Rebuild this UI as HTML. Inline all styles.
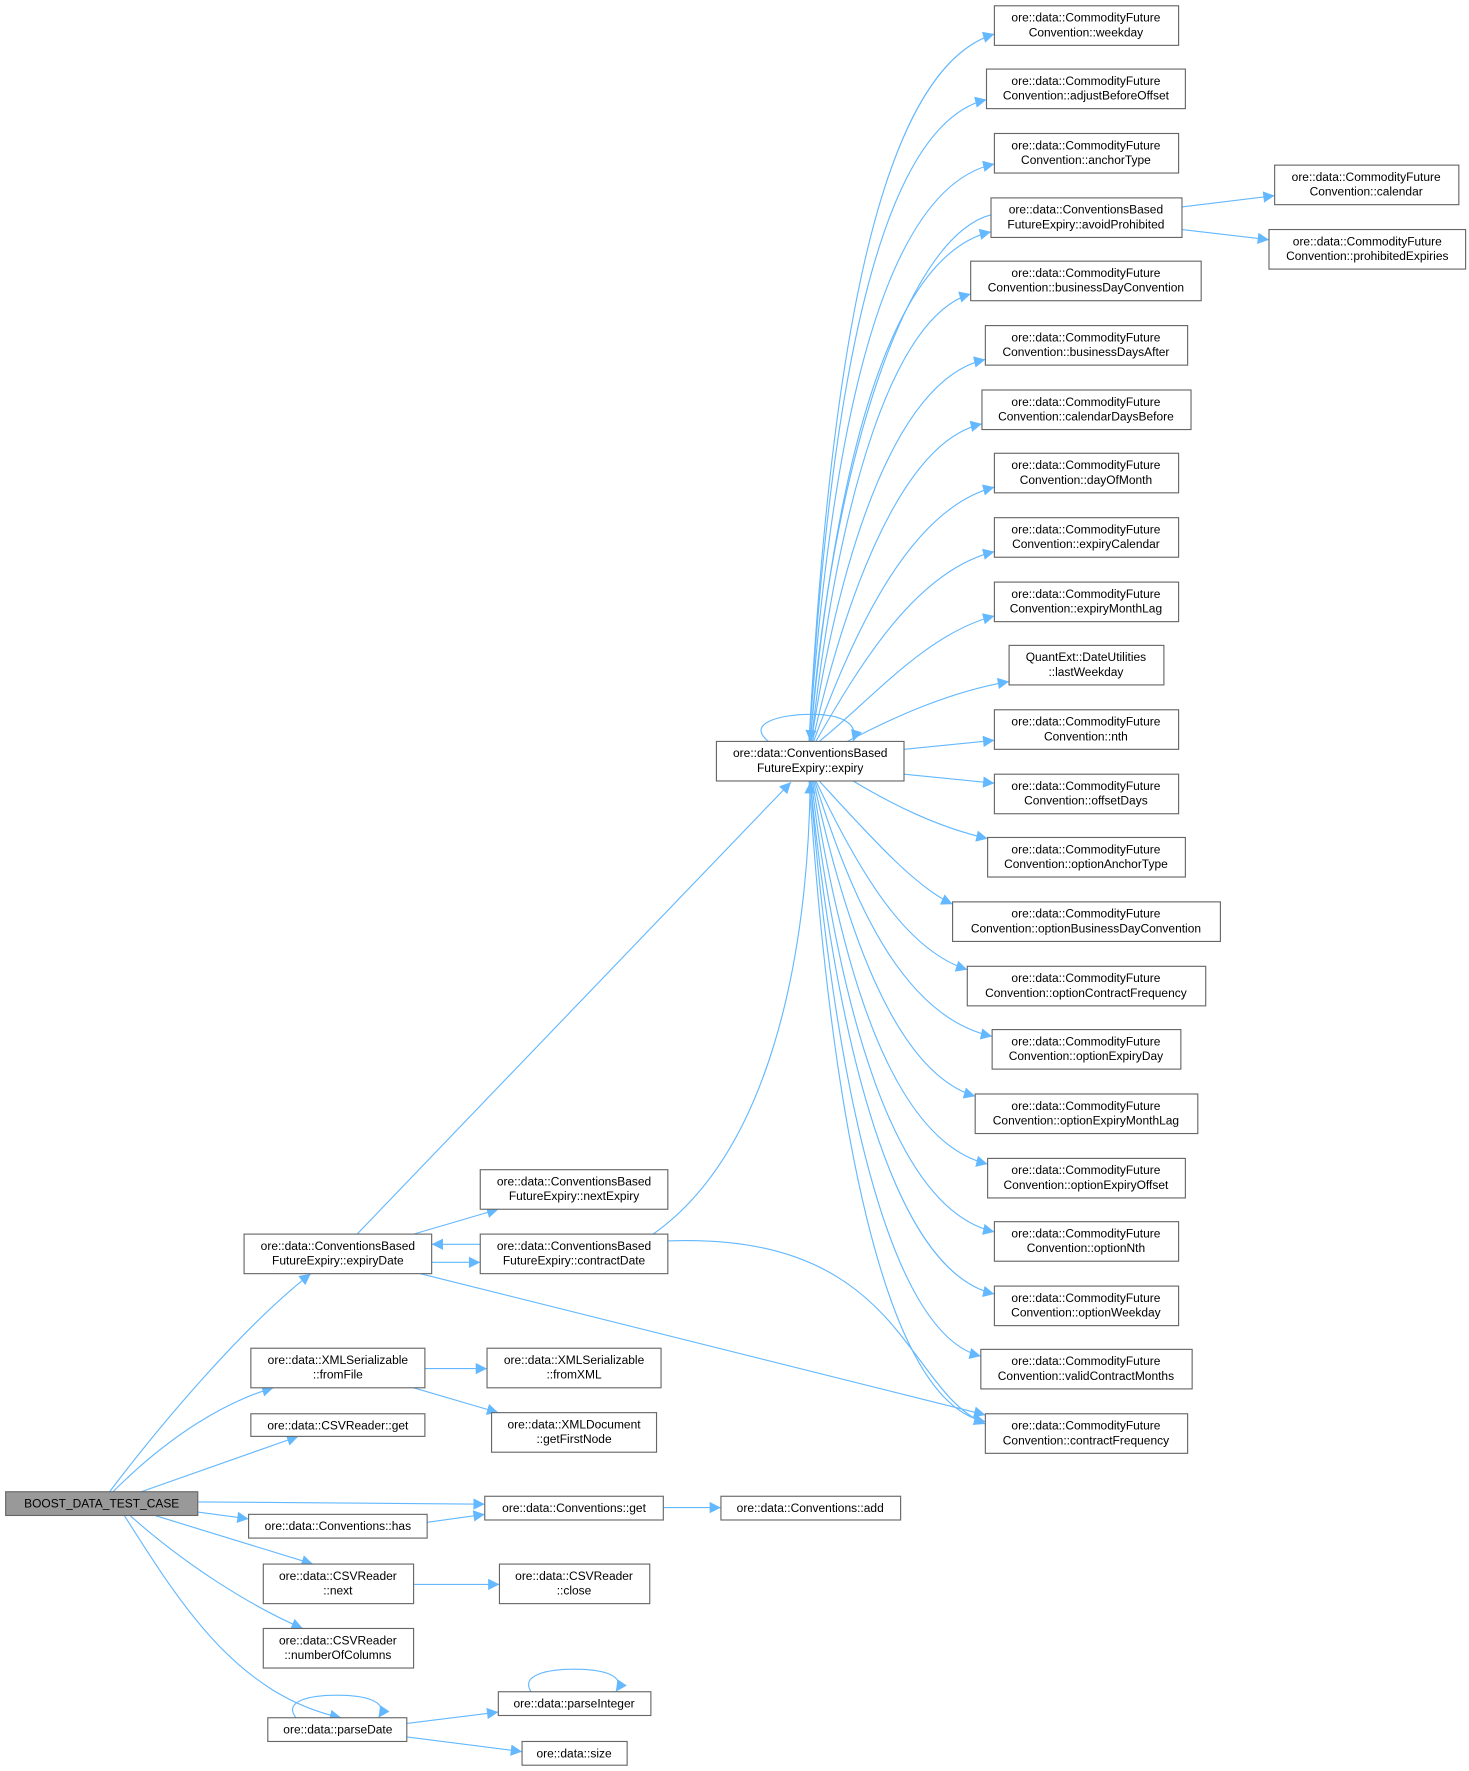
<!DOCTYPE html>
<html><head><meta charset="utf-8"><style>
html,body{margin:0;padding:0;background:#fff;}
svg{display:block}
text{font-family:"Liberation Sans",sans-serif;font-size:10.6px;fill:#000;text-anchor:middle}
.b{fill:#fff;stroke:#666;stroke-width:1}
.e{fill:none;stroke:#63b8ff;stroke-width:1}
</style></head><body>
<svg width="1469" height="1771" viewBox="0 0 1300 1567" xmlns="http://www.w3.org/2000/svg">
<defs><marker id="a" viewBox="0 0 10 10" refX="10" refY="5" markerWidth="12" markerHeight="10" markerUnits="userSpaceOnUse" orient="auto"><path d="M0,0L10,5L0,10z" fill="#63b8ff"/></marker></defs>
<g class="e" marker-end="url(#a)">
<path d="M716,656C735,300 780,60 880,30"/>
<path d="M716,656C735,330 780,110 873,88"/>
<path d="M716,656C737,360 785,165 880,145"/>
<path d="M717,656C740,400 790,225 877,205"/>
<path d="M718,656C742,440 790,280 859,260"/>
<path d="M718,656C745,480 795,335 872,318"/>
<path d="M719,656C750,520 800,390 869,375"/>
<path d="M720,656C755,560 805,450 880,431"/>
<path d="M722,656C760,590 810,505 880,488"/>
<path d="M725,656C770,620 820,560 880,545"/>
<path d="M750,656C790,635 840,612 893,603"/>
<path d="M800,663L880,655"/>
<path d="M800,685L880,693"/>
<path d="M755,691C790,712 830,732 874,742"/>
<path d="M725,691C770,740 810,785 843,800"/>
<path d="M722,691C760,770 800,840 856,858"/>
<path d="M721,691C755,800 800,900 878,917"/>
<path d="M720,691C750,830 795,950 863,970"/>
<path d="M719,691C745,860 790,1010 874,1030"/>
<path d="M718,691C742,890 790,1070 880,1090"/>
<path d="M717,691C740,920 790,1125 880,1145"/>
<path d="M717,691C737,950 785,1180 868,1200"/>
<path d="M716,691C735,980 780,1240 872,1258"/>
<path d="M877,190C800,210 735,420 717,656" />
<path d="M680,656C660,640 690,632 718,632C745,632 760,640 755,656"/>
<path d="M1046,183L1128,173"/>
<path d="M1046,203L1123,212"/>
<path d="M316,1092L700,692"/>
<path d="M366,1092L441,1070"/>
<path d="M382,1117L425,1117"/>
<path d="M425,1101L382,1101"/>
<path d="M578,1092C680,1020 715,850 717,692"/>
<path d="M591,1098C800,1090 800,1230 872,1260"/>
<path d="M372,1127L872,1252"/>
<path d="M97,1320C150,1250 220,1170 275,1127"/>
<path d="M100,1320C150,1270 200,1240 242,1228"/>
<path d="M125,1320L264,1271"/>
<path d="M175,1329L429,1331"/>
<path d="M175,1338L220,1344"/>
<path d="M137,1341L277,1384"/>
<path d="M115,1341C170,1390 230,1425 268,1441"/>
<path d="M110,1341C160,1420 210,1500 302,1520"/>
<path d="M378,1347L429,1340"/>
<path d="M587,1334L638,1334"/>
<path d="M376,1211L431,1211"/>
<path d="M366,1228L441,1250"/>
<path d="M366,1402L442,1402"/>
<path d="M360,1525L441,1515"/>
<path d="M360,1537L462,1550"/>
<path d="M262,1520C250,1505 275,1500 298,1500C322,1500 345,1505 335,1520"/>
<path d="M470,1497C460,1482 485,1477 508,1477C532,1477 555,1482 545,1497"/>
</g>
<g>
<rect class="b" x="880" y="5" width="163" height="35"/><text x="961" y="19">ore::data::CommodityFuture</text><text x="961" y="32">Convention::weekday</text>
<rect class="b" x="873" y="61" width="176" height="35"/><text x="961" y="75">ore::data::CommodityFuture</text><text x="961" y="88">Convention::adjustBeforeOffset</text>
<rect class="b" x="880" y="118" width="163" height="35"/><text x="961" y="132">ore::data::CommodityFuture</text><text x="961" y="145">Convention::anchorType</text>
<rect class="b" x="877" y="175" width="169" height="35"/><text x="961" y="189">ore::data::ConventionsBased</text><text x="961" y="202">FutureExpiry::avoidProhibited</text>
<rect class="b" x="859" y="231" width="204" height="35"/><text x="961" y="245">ore::data::CommodityFuture</text><text x="961" y="258">Convention::businessDayConvention</text>
<rect class="b" x="872" y="288" width="179" height="35"/><text x="961" y="302">ore::data::CommodityFuture</text><text x="961" y="315">Convention::businessDaysAfter</text>
<rect class="b" x="869" y="345" width="185" height="35"/><text x="961" y="359">ore::data::CommodityFuture</text><text x="961" y="372">Convention::calendarDaysBefore</text>
<rect class="b" x="880" y="401" width="163" height="35"/><text x="961" y="415">ore::data::CommodityFuture</text><text x="961" y="428">Convention::dayOfMonth</text>
<rect class="b" x="880" y="458" width="163" height="35"/><text x="961" y="472">ore::data::CommodityFuture</text><text x="961" y="485">Convention::expiryCalendar</text>
<rect class="b" x="880" y="515" width="163" height="35"/><text x="961" y="529">ore::data::CommodityFuture</text><text x="961" y="542">Convention::expiryMonthLag</text>
<rect class="b" x="893" y="571" width="137" height="35"/><text x="961" y="585">QuantExt::DateUtilities</text><text x="961" y="598">::lastWeekday</text>
<rect class="b" x="880" y="628" width="163" height="35"/><text x="961" y="642">ore::data::CommodityFuture</text><text x="961" y="655">Convention::nth</text>
<rect class="b" x="880" y="685" width="163" height="35"/><text x="961" y="699">ore::data::CommodityFuture</text><text x="961" y="712">Convention::offsetDays</text>
<rect class="b" x="874" y="741" width="175" height="35"/><text x="961" y="755">ore::data::CommodityFuture</text><text x="961" y="768">Convention::optionAnchorType</text>
<rect class="b" x="843" y="798" width="237" height="35"/><text x="961" y="812">ore::data::CommodityFuture</text><text x="961" y="825">Convention::optionBusinessDayConvention</text>
<rect class="b" x="856" y="855" width="211" height="35"/><text x="961" y="869">ore::data::CommodityFuture</text><text x="961" y="882">Convention::optionContractFrequency</text>
<rect class="b" x="878" y="911" width="167" height="35"/><text x="961" y="925">ore::data::CommodityFuture</text><text x="961" y="938">Convention::optionExpiryDay</text>
<rect class="b" x="863" y="968" width="197" height="35"/><text x="961" y="982">ore::data::CommodityFuture</text><text x="961" y="995">Convention::optionExpiryMonthLag</text>
<rect class="b" x="874" y="1025" width="175" height="35"/><text x="961" y="1039">ore::data::CommodityFuture</text><text x="961" y="1052">Convention::optionExpiryOffset</text>
<rect class="b" x="880" y="1081" width="163" height="35"/><text x="961" y="1095">ore::data::CommodityFuture</text><text x="961" y="1108">Convention::optionNth</text>
<rect class="b" x="880" y="1138" width="163" height="35"/><text x="961" y="1152">ore::data::CommodityFuture</text><text x="961" y="1165">Convention::optionWeekday</text>
<rect class="b" x="868" y="1194" width="187" height="35"/><text x="961" y="1208">ore::data::CommodityFuture</text><text x="961" y="1221">Convention::validContractMonths</text>
<rect class="b" x="872" y="1251" width="179" height="35"/><text x="961" y="1265">ore::data::CommodityFuture</text><text x="961" y="1278">Convention::contractFrequency</text>
<rect class="b" x="1128" y="146" width="163" height="35"/><text x="1209" y="160">ore::data::CommodityFuture</text><text x="1209" y="173">Convention::calendar</text>
<rect class="b" x="1123" y="203" width="174" height="35"/><text x="1210" y="217">ore::data::CommodityFuture</text><text x="1210" y="230">Convention::prohibitedExpiries</text>
<rect class="b" x="634" y="656" width="166" height="35"/><text x="717" y="670">ore::data::ConventionsBased</text><text x="717" y="683">FutureExpiry::expiry</text>
<rect class="b" x="425" y="1035" width="166" height="35"/><text x="508" y="1049">ore::data::ConventionsBased</text><text x="508" y="1062">FutureExpiry::nextExpiry</text>
<rect class="b" x="425" y="1092" width="166" height="35"/><text x="508" y="1106">ore::data::ConventionsBased</text><text x="508" y="1119">FutureExpiry::contractDate</text>
<rect class="b" x="216" y="1092" width="166" height="35"/><text x="299" y="1106">ore::data::ConventionsBased</text><text x="299" y="1119">FutureExpiry::expiryDate</text>
<rect class="b" x="222" y="1193" width="154" height="35"/><text x="299" y="1207">ore::data::XMLSerializable</text><text x="299" y="1220">::fromFile</text>
<rect class="b" x="431" y="1193" width="154" height="35"/><text x="508" y="1207">ore::data::XMLSerializable</text><text x="508" y="1220">::fromXML</text>
<rect class="b" x="435" y="1250" width="146" height="35"/><text x="508" y="1264">ore::data::XMLDocument</text><text x="508" y="1277">::getFirstNode</text>
<rect class="b" x="222" y="1251" width="154" height="20"/><text x="299" y="1265">ore::data::CSVReader::get</text>
<rect class="b" x="429" y="1324" width="158" height="21"/><text x="508" y="1338">ore::data::Conventions::get</text>
<rect class="b" x="638" y="1324" width="159" height="21"/><text x="717" y="1338">ore::data::Conventions::add</text>
<rect class="b" x="220" y="1340" width="158" height="21"/><text x="299" y="1354">ore::data::Conventions::has</text>
<rect class="b" x="233" y="1384" width="133" height="35"/><text x="299" y="1398">ore::data::CSVReader</text><text x="299" y="1411">::next</text>
<rect class="b" x="442" y="1384" width="133" height="35"/><text x="508" y="1398">ore::data::CSVReader</text><text x="508" y="1411">::close</text>
<rect class="b" x="233" y="1441" width="133" height="35"/><text x="299" y="1455">ore::data::CSVReader</text><text x="299" y="1468">::numberOfColumns</text>
<rect class="b" x="237" y="1520" width="123" height="21"/><text x="299" y="1534">ore::data::parseDate</text>
<rect class="b" x="441" y="1497" width="135" height="21"/><text x="508" y="1511">ore::data::parseInteger</text>
<rect class="b" x="462" y="1541" width="93" height="21"/><text x="508" y="1555">ore::data::size</text>
<rect x="5" y="1320" width="170" height="21" fill="#999" stroke="#666"/><text x="90" y="1334">BOOST_DATA_TEST_CASE</text>
</g>
</svg>
</body></html>
